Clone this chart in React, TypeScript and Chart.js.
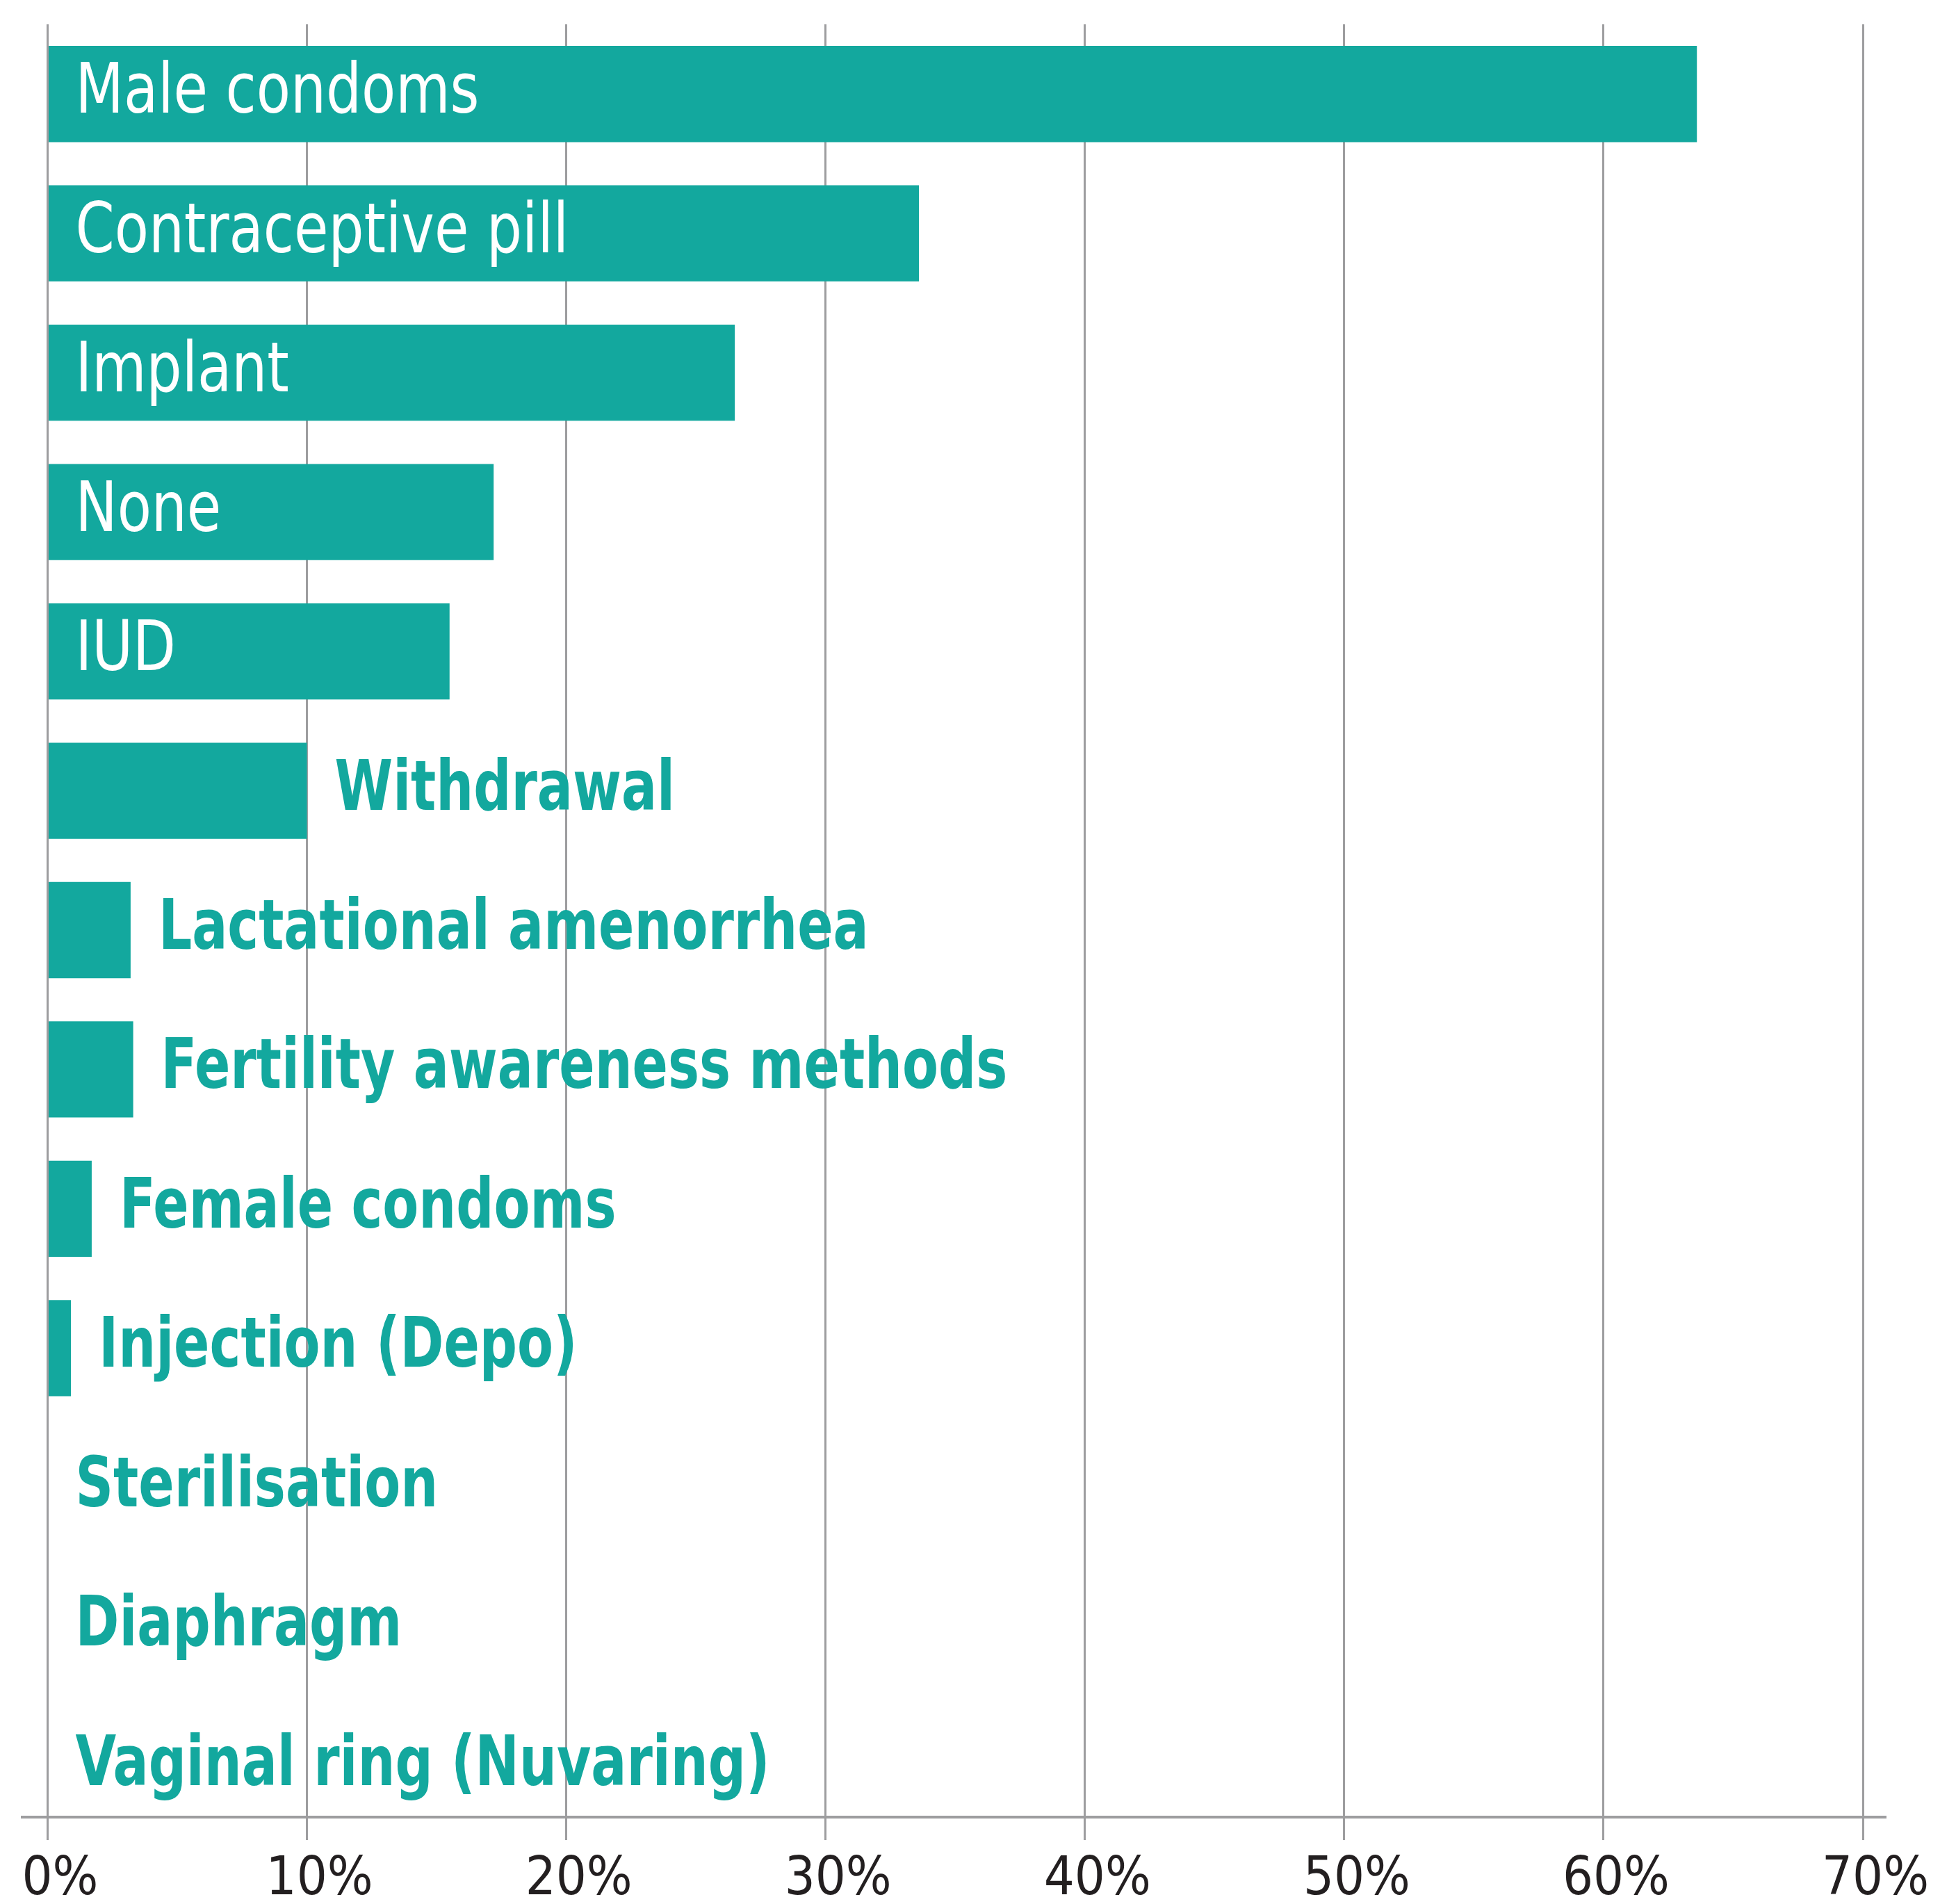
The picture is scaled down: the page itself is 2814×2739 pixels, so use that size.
import React, { useEffect, useRef } from "react";
import { Chart, registerables } from "chart.js";

Chart.register(...registerables);

const categories = [
  "Male condoms",
  "Contraceptive pill",
  "Implant",
  "None",
  "IUD",
  "Withdrawal",
  "Lactational amenorrhea",
  "Fertility awareness methods",
  "Female condoms",
  "Injection (Depo)",
  "Sterilisation",
  "Diaphragm",
  "Vaginal ring (Nuvaring)",
];

const values = [63.6, 33.6, 26.5, 17.2, 15.5, 10.0, 3.2, 3.3, 1.7, 0.9, 0, 0, 0];

const tickValues = [0, 10, 20, 30, 40, 50, 60, 70];

const TEAL = "#13a89e";
const GRID = "#9d9d9f";
const FONT = "'DejaVu Sans Condensed', 'DejaVu Sans', sans-serif";

const labelPlugin = {
  id: "barLabels",
  afterDatasetsDraw(chart: any) {
    const ctx = chart.ctx;
    const meta = chart.getDatasetMeta(0);
    const xScale = chart.scales.x;
    const zero = xScale.getPixelForValue(0);
    const gap = 40;
    ctx.save();
    ctx.textAlign = "left";
    ctx.textBaseline = "alphabetic";
    meta.data.forEach((bar: any, i: number) => {
      const label = categories[i];
      const barEnd = bar.x;
      const width = barEnd - zero;
      const y = bar.y + 27;
      ctx.font = `normal 100px ${FONT}`;
      const twInside = ctx.measureText(label).width * 0.894;
      if (twInside + 2 * gap < width) {
        ctx.save();
        ctx.fillStyle = "#ffffff";
        ctx.translate(zero + gap, y);
        ctx.scale(0.894, 1);
        ctx.fillText(label, 0, 0);
        ctx.restore();
      } else {
        ctx.save();
        ctx.font = `bold 100px ${FONT}`;
        ctx.fillStyle = TEAL;
        ctx.translate(Math.max(barEnd, zero) + gap, y);
        ctx.scale(0.842, 1);
        ctx.fillText(label, 0, 0);
        ctx.restore();
      }
    });
    ctx.restore();
  },
  afterDraw(chart: any) {
    const ctx = chart.ctx;
    const area = chart.chartArea;
    ctx.save();
    ctx.strokeStyle = GRID;
    ctx.lineWidth = 4;
    ctx.beginPath();
    ctx.moveTo(area.left - 38.5, area.bottom - 27);
    ctx.lineTo(area.right + 34, area.bottom - 27);
    ctx.stroke();
    ctx.restore();
  },
};

export default function App() {
  const ref = useRef<HTMLCanvasElement | null>(null);

  useEffect(() => {
    document.body.style.margin = "0";
    document.body.style.overflow = "hidden";
    if (!ref.current) return;
    const chart = new Chart(ref.current, {
      type: "bar",
      data: {
        labels: categories,
        datasets: [
          {
            data: values,
            backgroundColor: TEAL,
            borderWidth: 0,
            barPercentage: 0.69,
            categoryPercentage: 1,
          },
        ],
      },
      options: {
        indexAxis: "y",
        animation: false,
        responsive: false,
        devicePixelRatio: 1,
        layout: { padding: { top: 35, left: 68.5, right: 134, bottom: 0 } },
        plugins: {
          legend: { display: false },
          tooltip: { enabled: false },
        },
        scales: {
          x: {
            type: "linear",
            position: "bottom",
            min: 0,
            max: 70,
            afterBuildTicks: (scale: any) => {
              scale.ticks = tickValues.map((v) => ({ value: v }));
            },
            afterFit: (scale: any) => {
              scale.height = 98;
            },
            ticks: {
              callback: (v: any) => `${v}%`,
              color: "#231f20",
              font: { family: FONT, size: 77, weight: "normal" },
              padding: 12,
              labelOffset: 18,
              maxRotation: 0,
              autoSkip: false,
            },
            grid: {
              color: GRID,
              lineWidth: 3,
              tickLength: 6,
              drawTicks: true,
            },
            border: { display: false },
          },
          y: {
            display: false,
            grid: { display: false },
          },
        },
      },
      plugins: [labelPlugin],
    } as any);
    return () => chart.destroy();
  }, []);

  return (
    <div style={{ width: 2814, height: 2739, background: "#ffffff" }}>
      <canvas ref={ref} width={2814} height={2739} style={{ display: "block" }} />
    </div>
  );
}
